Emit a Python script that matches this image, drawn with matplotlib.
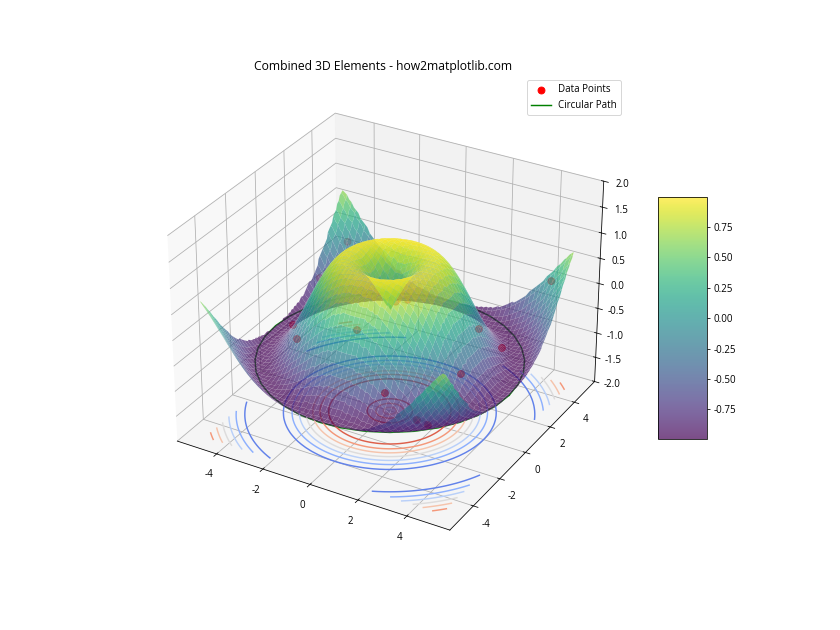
import numpy as np
import matplotlib
matplotlib.use("Agg")
import matplotlib.pyplot as plt

plt.rcParams['font.family'] = ['Open Sans', 'DejaVu Sans']
plt.rcParams['axes.unicode_minus'] = False

#Height of the surface against distance from the centre, every 0.05
radius_step = 0.05
height_by_radius = [
    0.000, 0.050, 0.100, 0.149, 0.199, 0.247, 0.296, 0.343, 0.389, 0.435,
    0.479, 0.523, 0.565, 0.605, 0.644, 0.682, 0.717, 0.751, 0.783, 0.813,
    0.841, 0.867, 0.891, 0.913, 0.932, 0.949, 0.964, 0.976, 0.985, 0.993,
    0.997, 1.000, 1.000, 0.997, 0.992, 0.984, 0.974, 0.961, 0.946, 0.929,
    0.909, 0.887, 0.863, 0.837, 0.808, 0.778, 0.746, 0.711, 0.675, 0.638,
    0.598, 0.558, 0.516, 0.472, 0.427, 0.382, 0.335, 0.287, 0.239, 0.190,
    0.141, 0.092, 0.042, -0.008, -0.058, -0.108, -0.158, -0.207, -0.256, -0.304,
    -0.351, -0.397, -0.443, -0.487, -0.530, -0.572, -0.612, -0.651, -0.688, -0.723,
    -0.757, -0.788, -0.818, -0.846, -0.872, -0.895, -0.916, -0.935, -0.952, -0.966,
    -0.978, -0.987, -0.994, -0.998, -0.999, -0.999, -0.996, -0.991, -0.982, -0.972,
    -0.959, -0.944, -0.926, -0.906, -0.883, -0.859, -0.832, -0.803, -0.773, -0.740,
    -0.706, -0.669, -0.631, -0.592, -0.551, -0.508, -0.465, -0.420, -0.374, -0.327,
    -0.279, -0.231, -0.182, -0.133, -0.083, -0.033, 0.017, 0.067, 0.117, 0.166,
    0.215, 0.264, 0.312, 0.359, 0.405, 0.450, 0.494, 0.537, 0.578, 0.618,
    0.657, 0.694, 0.729,
]

#Circular path, radius 5
path_x = [5.0, 4.924, 4.698, 4.33, 3.83, 3.214, 2.5, 1.71, 0.868, 0.0,
          -0.868, -1.71, -2.5, -3.214, -3.83, -4.33, -4.698, -4.924, -5.0,
          -4.924, -4.698, -4.33, -3.83, -3.214, -2.5, -1.71, -0.868, 0.0,
          0.868, 1.71, 2.5, 3.214, 3.83, 4.33, 4.698, 4.924, 5.0]
path_y = [0.0, 0.868, 1.71, 2.5, 3.214, 3.83, 4.33, 4.698, 4.924, 5.0,
          4.924, 4.698, 4.33, 3.83, 3.214, 2.5, 1.71, 0.868, 0.0,
          -0.868, -1.71, -2.5, -3.214, -3.83, -4.33, -4.698, -4.924, -5.0,
          -4.924, -4.698, -4.33, -3.83, -3.214, -2.5, -1.71, -0.868, 0.0]
path_z = [-0.959] * 37

#Data points
points_x = [-3.55, -2.88, -1.30, 1.82, 2.58, 3.96, 3.54, 4.60, -4.09, -4.54, 3.69, 4.18, -1.11, -0.79]
points_y = [-1.05, -1.85, -0.18, -3.50, 2.15, 1.36, -1.00, 3.97, 3.84, 2.50, -4.49, -4.58, 2.37, 2.73]
points_z = [-0.5, -0.5, -0.5, -0.5, -0.5, -0.5, -0.5, 0.3, 0.0, -0.5, -0.5, -0.5, -0.5, -0.5]

x = np.linspace(-5, 5, 100)
X, Y = np.meshgrid(x, x)
R = np.hypot(X, Y)
#Move each mesh point to the nearest radius in the table
idx = np.rint(R / radius_step).astype(int)
scale = np.where(R > 0, idx * radius_step / np.where(R > 0, R, 1), 1)
X = X * scale
Y = Y * scale
Z = np.array(height_by_radius)[idx]

fig = plt.figure(figsize=(12, 9), dpi=70)
ax = fig.add_subplot(111, projection='3d')

surf = ax.plot_surface(X, Y, Z, cmap='viridis', alpha=0.7, edgecolor='white', linewidth=0.05)
ax.contour(X, Y, Z, zdir='z', offset=-2, cmap='coolwarm')
ax.scatter(points_x, points_y, points_z, c='r', s=50, label='Data Points')
ax.plot(path_x, path_y, path_z, color='g', label='Circular Path')

ax.set_xlim(-5.729, 5.729)
ax.set_ylim(-5.729, 5.729)
ax.set_zlim(-2, 2)
ax.set_title('Combined 3D Elements - how2matplotlib.com', fontsize=12.5)
ax.legend()
fig.colorbar(surf, shrink=0.5, aspect=5)

fig.savefig('out.png', dpi=70)
